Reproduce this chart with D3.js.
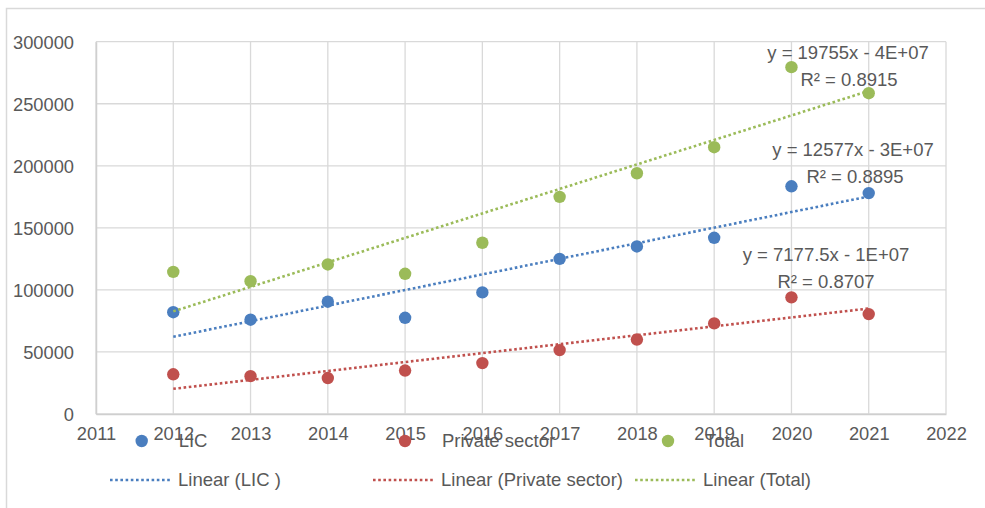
<!DOCTYPE html>
<html><head><meta charset="utf-8">
<script src="https://cdn.jsdelivr.net/npm/d3@7"></script>
<style>
html,body{margin:0;padding:0;background:#fff;}
svg{display:block;font-family:"Liberation Sans",Arial,sans-serif;}
</style></head>
<body><svg id="c" width="985" height="508"></svg>
<script>
const years = [2012,2013,2014,2015,2016,2017,2018,2019,2020,2021];
const licValues = [82000,76000,90500,77500,98000,125000,135000,142000,183500,178000];
const privateValues = [32000,30500,29000,35000,41000,51500,60000,73000,94000,80500];
const totalValues = [114500,107000,120500,113000,138000,175000,194000,215000,279500,258500];
const seriesNames = ["LIC", "Private sector", "Total"];
const trendNames = ["Linear (LIC )", "Linear (Private sector)", "Linear (Total)"];
const equations = [["y = 12577x - 3E+07","R² = 0.8895"],["y = 7177.5x - 1E+07","R² = 0.8707"],["y = 19755x - 4E+07","R² = 0.8915"]];
const xTicks = [2011,2012,2013,2014,2015,2016,2017,2018,2019,2020,2021,2022];
const yTicks = [0,50000,100000,150000,200000,250000,300000];
const colors = ["#4a7ebf","#c0504d","#9bbb59"];

const svg = d3.select("#c");
const textColor = "#595959", gridColor = "#d9d9d9";

// outer chart border (left/top visible)
svg.append("rect").attr("x",6.5).attr("y",8.5).attr("width",1000).attr("height",520)
  .attr("fill","none").attr("stroke","#d9d9d9").attr("stroke-width",1.5);

const x = d3.scaleLinear().domain([2011,2022]).range([96,946]);
const y = d3.scaleLinear().domain([0,300000]).range([414,41.7]);

// gridlines
const g = svg.append("g");
g.selectAll(".hg").data(yTicks).join("line")
  .attr("x1",x(2011)).attr("x2",x(2022)).attr("y1",d=>y(d)).attr("y2",d=>y(d))
  .attr("stroke",gridColor).attr("stroke-width",1.3);
g.selectAll(".vg").data(xTicks).join("line")
  .attr("y1",y(0)).attr("y2",y(300000)).attr("x1",d=>x(d)).attr("x2",d=>x(d))
  .attr("stroke",gridColor).attr("stroke-width",1.3);

// axes
const yAxis = d3.axisLeft(y).tickValues(yTicks).tickSize(0).tickPadding(22).tickFormat(d3.format("d"));
const ya = svg.append("g").attr("transform",`translate(${x(2011)},0)`).call(yAxis);
ya.select(".domain").attr("stroke","#cfcfcf").attr("stroke-width",1.5);
ya.selectAll("text").attr("fill",textColor).style("font-size","18.3px").attr("dy","0.35em");

const xAxis = d3.axisBottom(x).tickValues(xTicks).tickSize(0).tickPadding(20).tickFormat(d3.format("d"));
const xa = svg.append("g").attr("transform",`translate(0,${y(0)})`).call(xAxis);
xa.select(".domain").attr("stroke","#cfcfcf").attr("stroke-width",1.5);
xa.selectAll("text").attr("fill",textColor).style("font-size","18.3px").attr("dy","0.35em");

// data
const series = [licValues, privateValues, totalValues].map((vals,i)=>({
  name: seriesNames[i], color: colors[i],
  pts: years.map((yr,j)=>({x:yr,y:vals[j]}))
}));

function linReg(pts){
  const mx=d3.mean(pts,p=>p.x), my=d3.mean(pts,p=>p.y);
  const sxy=d3.sum(pts,p=>(p.x-mx)*(p.y-my)), sxx=d3.sum(pts,p=>(p.x-mx)**2);
  const b=sxy/sxx; return {b, a:my-b*mx};
}

const line = d3.line().x(d=>x(d.x)).y(d=>y(d.y));
const order = [2,0,1];
order.forEach(i=>{
  const s = series[i];
  svg.append("g").selectAll("circle").data(s.pts).join("circle")
    .attr("cx",d=>x(d.x)).attr("cy",d=>y(d.y)).attr("r",6.2).attr("fill",s.color);
});
order.forEach(i=>{
  const s = series[i];
  const r = linReg(s.pts);
  const ends = [years[0], years[years.length-1]].map(v=>({x:v,y:r.a+r.b*v}));
  svg.append("path").datum(ends).attr("d",line).attr("fill","none")
    .attr("stroke",s.color).attr("stroke-width",2.6).attr("stroke-dasharray","2.6 2.6");
});

// equation labels
const eqPos = [[853,150,855,177],[826,255,826,282],[848,53,849,80]];
eqPos.forEach((p,i)=>{
  svg.append("text").attr("x",p[0]).attr("y",p[1]).attr("dy","0.35em").attr("text-anchor","middle")
    .attr("fill",textColor).style("font-size","18.5px").text(equations[i][0]);
  svg.append("text").attr("x",p[2]).attr("y",p[3]).attr("dy","0.35em").attr("text-anchor","middle")
    .attr("fill",textColor).style("font-size","18.5px").text(equations[i][1]);
});

// legend
const leg1 = [141.7, 405, 668];
const leg2 = [110, 373, 635];
seriesNames.forEach((n,i)=>{
  svg.append("circle").attr("cx",leg1[i]).attr("cy",441).attr("r",6.2).attr("fill",colors[i]);
  svg.append("text").attr("x",leg1[i]+37).attr("y",441).attr("dy","0.35em")
    .attr("fill",textColor).style("font-size","18.5px").text(n);
  svg.append("line").attr("x1",leg2[i]).attr("x2",leg2[i]+61).attr("y1",480).attr("y2",480)
    .attr("stroke",colors[i]).attr("stroke-width",2.6).attr("stroke-dasharray","2.6 2.6");
  svg.append("text").attr("x",leg2[i]+68).attr("y",480).attr("dy","0.35em")
    .attr("fill",textColor).style("font-size","18.5px").text(trendNames[i]);
});
</script></body></html>
